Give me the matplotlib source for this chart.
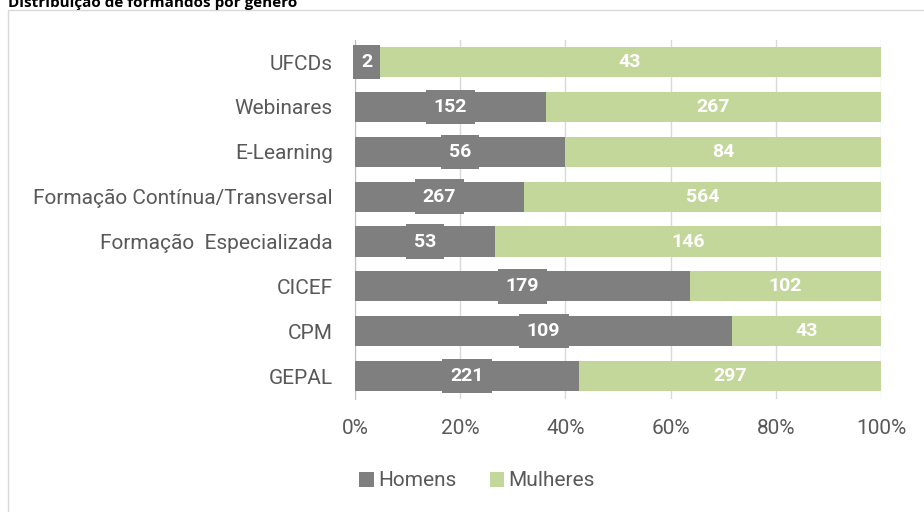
import matplotlib.pyplot as plt
import numpy as np
from matplotlib.patches import Rectangle

plt.rcParams['font.family'] = ['Roboto', 'DejaVu Sans']

categorias = ['UFCDs', 'Webinares', 'E-Learning', 'Formação Contínua/Transversal',
              'Formação  Especializada', 'CICEF', 'CPM', 'GEPAL']
homens = [2, 152, 56, 267, 53, 179, 109, 221]
mulheres = [43, 267, 84, 564, 146, 102, 43, 297]

cor_h = '#7F7F7F'
cor_m = '#C4D79B'
cor_txt = '#595959'

h = np.array(homens, dtype=float)
m = np.array(mulheres, dtype=float)
tot = h + m
ph = h / tot
pm = m / tot
y = np.arange(len(categorias))

fig = plt.figure(figsize=(9.24, 5.12), dpi=100)
# chart border
fig.patches.append(Rectangle((8 / 924, -0.2), 1.2, (512 - 10) / 512 + 0.2,
                             transform=fig.transFigure, fill=False,
                             edgecolor='#D9D9D9', linewidth=1))
fig.text(8 / 924, 1 - 3 / 512, 'Distribuição de formandos por género',
         fontsize=11, fontweight='bold', va='center', ha='left', color='black',
         family=['Open Sans', 'DejaVu Sans'])

ax = fig.add_axes([355 / 924, 0.2215, 526 / 924, 0.7012])
ax.barh(y, ph, height=0.67, color=cor_h, label='Homens', zorder=3)
ax.barh(y, pm, left=ph, height=0.67, color=cor_m, label='Mulheres', zorder=3)

for i in range(len(categorias)):
    ax.text(ph[i] / 2, y[i], str(homens[i]), ha='center', va='center',
            color='white', fontsize=14, fontweight='bold', zorder=5,
            bbox=dict(boxstyle='square,pad=0.42', facecolor=cor_h, edgecolor='none'))
    ax.text(ph[i] + pm[i] / 2, y[i], str(mulheres[i]), ha='center', va='center',
            color='white', fontsize=14, fontweight='bold', zorder=5)

ax.set_xlim(0, 1)
ax.set_ylim(len(categorias) - 0.5, -0.5)
ax.set_yticks(y)
ax.set_yticklabels(categorias)
ax.set_xticks(np.linspace(0, 1, 6))
ax.set_xticklabels(['0%', '20%', '40%', '60%', '80%', '100%'])
ax.tick_params(axis='y', length=0, pad=16, labelsize=15, labelcolor=cor_txt)
ax.tick_params(axis='x', length=0, pad=15, labelsize=15, labelcolor=cor_txt)
ax.grid(axis='x', color='#D9D9D9', linewidth=1, zorder=0)
for s in ['top', 'right', 'bottom']:
    ax.spines[s].set_visible(False)
ax.spines['left'].set_color('#BFBFBF')

fig.legend(loc='center', bbox_to_anchor=(477 / 924, 1 - 481 / 512), ncol=2,
           frameon=False, fontsize=15, handlelength=0.7, handleheight=0.7,
           handletextpad=0.2, columnspacing=1.6, labelcolor=cor_txt)

fig.savefig('out.png', dpi=100)
